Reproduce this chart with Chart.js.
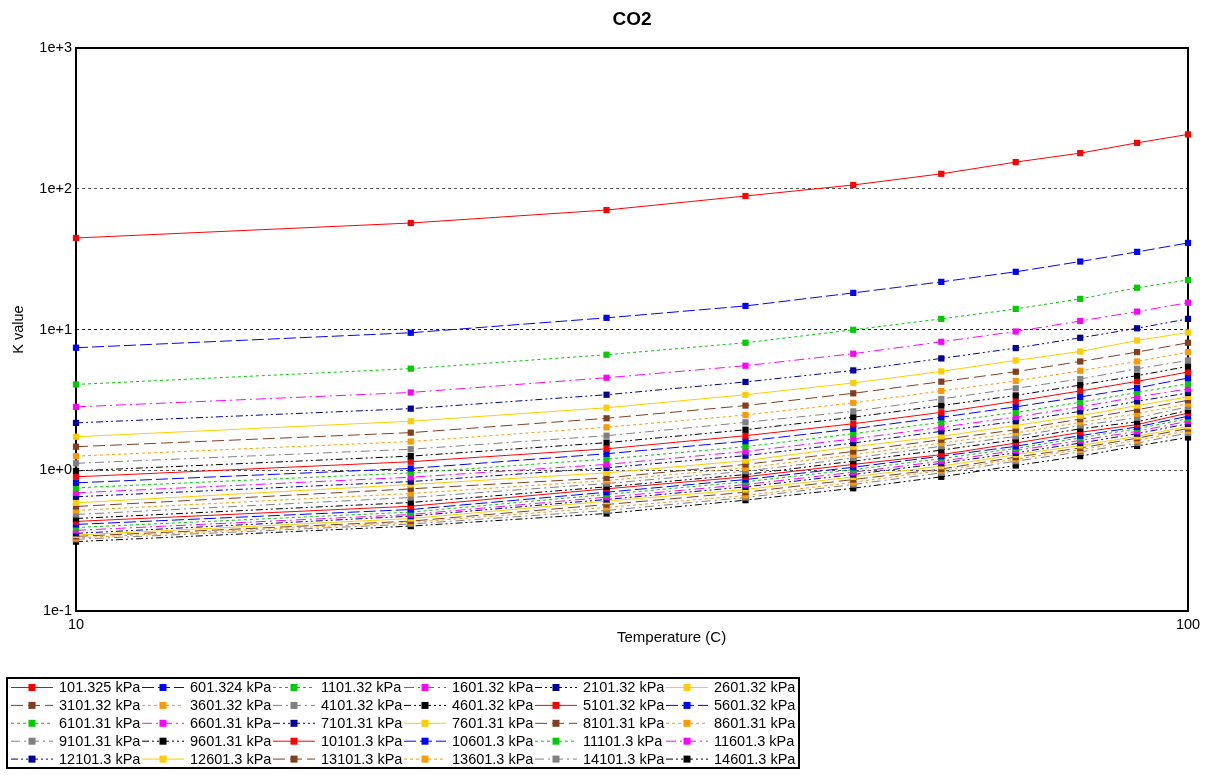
<!DOCTYPE html>
<html>
<head>
<meta charset="utf-8">
<title>CO2 K value</title>
<script src="https://cdn.jsdelivr.net/npm/chart.js@4.4.1/dist/chart.umd.min.js"></script>
<style>
  html, body { margin: 0; padding: 0; background: #ffffff; }
  #wrap { width: 1212px; height: 775px; }
</style>
</head>
<body>
<div id="wrap"><canvas id="chart" width="1212" height="775"></canvas></div>
<script>
// Temperatures (C) at which K values are tabulated
const temperatures = [10, 20, 30, 40, 50, 60, 70, 80, 90, 100];

// Pressure labels, one per curve
const pressureLabels = [
  '101.325 kPa', '601.324 kPa', '1101.32 kPa', '1601.32 kPa', '2101.32 kPa', '2601.32 kPa',
  '3101.32 kPa', '3601.32 kPa', '4101.32 kPa', '4601.32 kPa', '5101.32 kPa', '5601.32 kPa',
  '6101.31 kPa', '6601.31 kPa', '7101.31 kPa', '7601.31 kPa', '8101.31 kPa', '8601.31 kPa',
  '9101.31 kPa', '9601.31 kPa', '10101.3 kPa', '10601.3 kPa', '11101.3 kPa', '11601.3 kPa',
  '12101.3 kPa', '12601.3 kPa', '13101.3 kPa', '13601.3 kPa', '14101.3 kPa', '14601.3 kPa'
];

// K values of CO2 per pressure, over the temperatures above
const k101 = [44.7, 57.1, 70.6, 88.8, 106.3, 127.7, 154.6, 179.1, 211.9, 243.2];
const k601 = [7.42, 9.48, 12.1, 14.7, 18.2, 21.8, 25.7, 30.4, 35.6, 41.2];
const k1101 = [4.07, 5.27, 6.62, 8.05, 9.95, 11.9, 14.0, 16.5, 19.8, 22.5];
const k1601 = [2.82, 3.57, 4.54, 5.53, 6.73, 8.18, 9.68, 11.5, 13.4, 15.5];
const k2101 = [2.17, 2.74, 3.44, 4.24, 5.12, 6.23, 7.38, 8.73, 10.2, 11.9];
const k2601 = [1.73, 2.23, 2.78, 3.44, 4.17, 5.04, 6.03, 6.98, 8.36, 9.52];
const k3101 = [1.47, 1.85, 2.34, 2.88, 3.52, 4.26, 5.01, 5.93, 6.91, 8.05];
const k3601 = [1.26, 1.60, 2.02, 2.47, 3.01, 3.66, 4.31, 5.09, 5.93, 6.91];
const k4101 = [1.12, 1.41, 1.76, 2.19, 2.62, 3.21, 3.82, 4.45, 5.26, 6.03];
const k4601 = [0.99, 1.26, 1.57, 1.94, 2.38, 2.88, 3.40, 4.03, 4.70, 5.47];
const k5101 = [0.898, 1.15, 1.42, 1.76, 2.14, 2.58, 3.09, 3.66, 4.28, 4.99];
const k5601 = [0.814, 1.03, 1.31, 1.61, 1.97, 2.38, 2.82, 3.32, 3.84, 4.52];
const k6101 = [0.750, 0.958, 1.20, 1.47, 1.82, 2.19, 2.58, 3.04, 3.57, 4.12];
const k6601 = [0.691, 0.892, 1.10, 1.36, 1.67, 2.02, 2.39, 2.82, 3.32, 3.78];
const k7101 = [0.648, 0.831, 1.04, 1.27, 1.56, 1.89, 2.23, 2.62, 3.09, 3.54];
const k7601 = [0.587, 0.792, 0.958, 1.17, 1.47, 1.74, 2.08, 2.44, 2.88, 3.32];
const k8101 = [0.553, 0.738, 0.883, 1.10, 1.36, 1.65, 1.94, 2.31, 2.69, 3.14];
const k8601 = [0.518, 0.684, 0.845, 1.04, 1.29, 1.56, 1.84, 2.19, 2.52, 2.97];
const k9101 = [0.485, 0.640, 0.805, 0.984, 1.22, 1.48, 1.74, 2.08, 2.36, 2.82];
const k9601 = [0.454, 0.590, 0.762, 0.932, 1.16, 1.39, 1.65, 1.97, 2.21, 2.66];
const k10101 = [0.433, 0.555, 0.738, 0.898, 1.10, 1.29, 1.56, 1.86, 2.11, 2.55];
const k10601 = [0.412, 0.526, 0.698, 0.859, 1.05, 1.26, 1.48, 1.76, 2.03, 2.42];
const k11101 = [0.392, 0.504, 0.673, 0.828, 1.01, 1.21, 1.43, 1.70, 1.97, 2.33];
const k11601 = [0.374, 0.485, 0.644, 0.792, 0.968, 1.16, 1.38, 1.63, 1.89, 2.23];
const k12101 = [0.356, 0.472, 0.620, 0.762, 0.932, 1.12, 1.33, 1.56, 1.82, 2.14];
const k12601 = [0.347, 0.454, 0.603, 0.730, 0.898, 1.07, 1.29, 1.50, 1.74, 2.05];
const k13101 = [0.339, 0.435, 0.571, 0.698, 0.859, 1.02, 1.24, 1.44, 1.69, 1.98];
const k13601 = [0.331, 0.426, 0.544, 0.662, 0.822, 0.995, 1.20, 1.40, 1.63, 1.91];
const k14101 = [0.323, 0.415, 0.518, 0.640, 0.792, 0.958, 1.16, 1.35, 1.56, 1.84];
const k14601 = [0.311, 0.401, 0.493, 0.613, 0.745, 0.898, 1.08, 1.26, 1.49, 1.71];

const kSeries = [
  k101, k601, k1101, k1601, k2101, k2601, k3101, k3601, k4101, k4601,
  k5101, k5601, k6101, k6601, k7101, k7601, k8101, k8601, k9101, k9601,
  k10101, k10601, k11101, k11601, k12101, k12601, k13101, k13601, k14101, k14601
];

// Axis tick values and their labels
const xTickValues = [10, 100];
const xTickLabels = ['10', '100'];
const yTickValues = [0.1, 1, 10, 100, 1000];
const yTickLabels = ['1e-1', '1e+0', '1e+1', '1e+2', '1e+3'];

// Ten-step colour / dash cycle used by the curves
const cycleColors = ['#ff0000', '#0000ff', '#00cc00', '#ff00ff', '#000099',
                     '#ffcc00', '#804020', '#ff9900', '#808080', '#000000'];
const cycleDashes = [[], [12, 4], [3, 3], [10, 4, 2, 4], [7, 3, 2, 3, 2, 3],
                     [], [12, 5], [3, 3], [9, 4, 2, 4], [7, 3, 2, 3, 2, 3]];

const FONT = '"Liberation Sans", Arial, sans-serif';

const datasets = kSeries.map((vals, i) => ({
  label: pressureLabels[i],
  data: temperatures.map((t, j) => ({ x: t, y: vals[j] })),
  borderColor: cycleColors[i % 10],
  backgroundColor: cycleColors[i % 10],
  borderWidth: 1,
  borderDash: cycleDashes[i % 10],
  pointStyle: 'rect',
  pointRadius: 4.4,
  pointBorderWidth: 0,
  pointBackgroundColor: cycleColors[i % 10],
  tension: 0,
  fill: false,
  clip: false
}));

// Plot frame, chart heading, x-axis caption and the boxed legend
const decorations = {
  id: 'decorations',
  beforeDatasetsDraw(chart) {
    const { ctx, chartArea: a } = chart;
    ctx.save();
    ctx.strokeStyle = '#000';
    ctx.lineWidth = 2;
    ctx.setLineDash([]);
    ctx.strokeRect(a.left, a.top, a.right - a.left, a.bottom - a.top);
    ctx.restore();
  },
  afterDraw(chart) {
    const { ctx, chartArea: a } = chart;
    ctx.save();
    ctx.fillStyle = '#000';
    ctx.font = 'bold 19px ' + FONT;
    ctx.textAlign = 'center';
    ctx.textBaseline = 'middle';
    ctx.fillText('CO2', (a.left + a.right) / 2, 20);

    ctx.font = '15px ' + FONT;
    ctx.textAlign = 'left';
    ctx.fillText('Temperature (C)', 617, 638);

    // legend box
    const boxL = 7, boxT = 678, boxR = 799, boxB = 768;
    ctx.strokeStyle = '#000';
    ctx.lineWidth = 2;
    ctx.strokeRect(boxL, boxT, boxR - boxL, boxB - boxT);

    ctx.font = '14.5px ' + FONT;
    ctx.textAlign = 'left';
    ctx.textBaseline = 'middle';
    const cols = 6, colW = 131, rowH = 17.9;
    chart.data.datasets.forEach((ds, i) => {
      const col = i % cols, row = Math.floor(i / cols);
      const tx = 59 + col * colW;
      const cy = 687 + row * rowH;
      const mx = tx - 27;
      ctx.strokeStyle = ds.borderColor;
      ctx.lineWidth = 1;
      ctx.setLineDash(ds.borderDash);
      ctx.beginPath();
      ctx.moveTo(mx - 21, cy + 0.5);
      ctx.lineTo(mx + 21, cy + 0.5);
      ctx.stroke();
      ctx.setLineDash([]);
      ctx.fillStyle = ds.pointBackgroundColor;
      ctx.fillRect(mx - 3.5, cy - 3, 7, 7);
      ctx.fillStyle = '#000';
      ctx.fillText(ds.label, tx, cy + 1);
    });
    ctx.restore();
  }
};

new Chart(document.getElementById('chart'), {
  type: 'line',
  data: { datasets },
  plugins: [decorations],
  options: {
    responsive: false,
    animation: false,
    devicePixelRatio: 1,
    layout: { padding: { left: 0, right: 24, top: 48, bottom: 129 } },
    plugins: {
      legend: { display: false },
      title: { display: false },
      tooltip: { enabled: false }
    },
    scales: {
      x: {
        type: 'logarithmic',
        min: 10,
        max: 100,
        afterBuildTicks(scale) { scale.ticks = xTickValues.map(v => ({ value: v })); },
        afterFit(scale) { scale.height = 35; },
        ticks: {
          autoSkip: false,
          maxRotation: 0,
          padding: 5,
          color: '#000',
          font: { family: FONT, size: 14.5 },
          callback(value) {
            const i = xTickValues.indexOf(value);
            return i >= 0 ? xTickLabels[i] : '';
          }
        },
        grid: { display: false, drawTicks: false },
        border: { display: false },
        title: { display: false }
      },
      y: {
        type: 'logarithmic',
        min: 0.1,
        max: 1000,
        afterBuildTicks(scale) { scale.ticks = yTickValues.map(v => ({ value: v })); },
        afterFit(scale) { scale.width = 76; },
        ticks: {
          autoSkip: false,
          padding: 4,
          color: '#000',
          font: { family: FONT, size: 14.5 },
          callback(value) {
            const i = yTickValues.indexOf(value);
            return i >= 0 ? yTickLabels[i] : '';
          }
        },
        grid: {
          drawTicks: false,
          lineWidth: 1,
          color(c) {
            const v = c.tick && c.tick.value;
            if (v === 10) return '#222222';
            return (v === 1 || v === 100) ? '#555555' : 'rgba(0,0,0,0)';
          }
        },
        border: { display: false, dash: [3, 3] },
        title: {
          display: true,
          text: 'K value',
          color: '#000',
          font: { family: FONT, size: 14.5 },
          padding: { top: 10, bottom: 0 }
        }
      }
    }
  }
});
</script>
</body>
</html>
